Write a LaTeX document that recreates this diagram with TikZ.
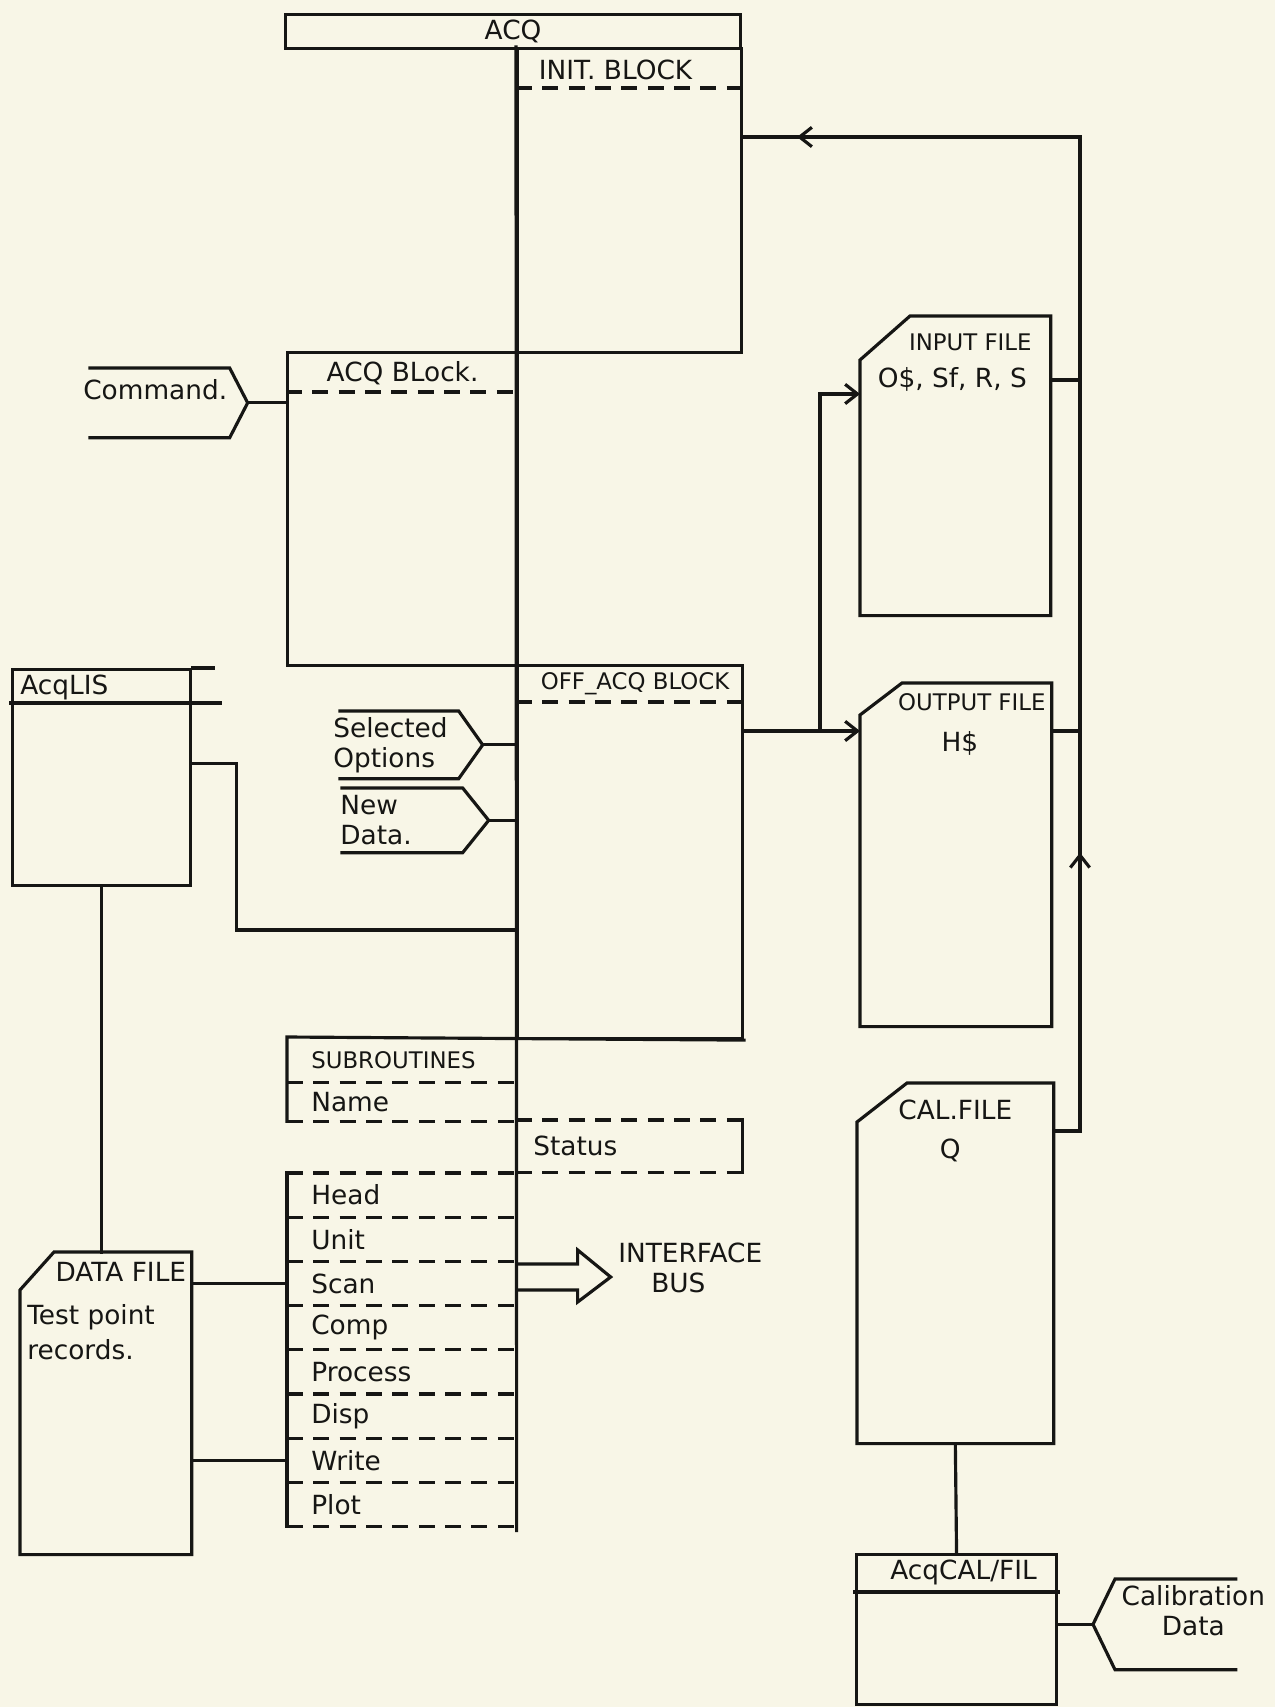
\documentclass[tikz,border=0pt]{standalone}
\usepackage{fontspec}
\setmainfont{DejaVu Sans}
\usepackage{tikz}
\usetikzlibrary{arrows.meta, positioning, calc, decorations.markings}
\definecolor{paper}{RGB}{248,246,231}
\definecolor{ink}{RGB}{22,22,20}
\newcommand{\hand}{\fontsize{15}{17}\selectfont}
\newcommand{\handsm}{\fontsize{13}{15}\selectfont}
\tikzset{
  block/.style={rectangle, draw=ink, line width=1.8pt, anchor=north west, inner sep=0pt},
  filebox/.style={rectangle, anchor=north west, inner sep=0pt},
  flag/.style={rectangle, anchor=north west, inner sep=0pt},
  listrow/.style={rectangle, anchor=north west, inner xsep=0.48cm, inner ysep=0pt,
    text width=3.62cm, align=left, minimum height=#1, font=\hand, text=ink,
    append after command={(\tikzlastnode.south west) edge[dashsep] (\tikzlastnode.south east)}},
  txt/.style={font=\hand, text=ink, inner sep=0pt},
  smtxt/.style={font=\handsm, text=ink, inner sep=0pt},
  line/.style={draw=ink, line width=1.8pt, line cap=rect},
  dashsep/.style={draw=ink, line width=1.8pt, dash pattern=on 9pt off 6pt},
  arrow/.style={line, -{Straight Barb[length=7pt, width=11pt]}},
  midarrow/.style={line, postaction={decorate}, decoration={markings,
    mark=at position #1 with {\arrow{Straight Barb[length=7pt, width=11pt]}}}}
}
\begin{document}
\begin{tikzpicture}[x=0.02cm, y=-0.02cm]
  \path[use as bounding box, fill=paper] (0,0) rectangle (1275,1707);

  % ACQ program and its blocks
  \node[block, minimum width=9.1cm, minimum height=0.68cm, font=\hand, text=ink] (acq) at (284,13) {ACQ};
  \node[block, minimum width=4.48cm, minimum height=6.08cm] (init) at (516,47) {};
  \node[block, minimum width=4.6cm, minimum height=6.26cm] (acqblk) at (286,351) {};
  \node[block, minimum width=4.5cm, minimum height=7.46cm] (offacq) at (516,664) {};
  \draw[dashsep] ([yshift=-0.82cm]init.north west) -- ([yshift=-0.82cm]init.north east);
  \draw[dashsep] ([yshift=-0.82cm]acqblk.north west) -- ([yshift=-0.82cm]acqblk.north east);
  \draw[dashsep] ([yshift=-0.76cm]offacq.north west) -- ([yshift=-0.76cm]offacq.north east);
  \node[txt] at ([xshift=-0.28cm, yshift=-0.46cm]init.north) {INIT. BLOCK};
  \node[txt] at ([yshift=-0.44cm]acqblk.north) {ACQ BLock.};
  \node[smtxt] at ([xshift=0.1cm, yshift=-0.4cm]offacq.north) {OFF\_ACQ BLOCK};

  % Subroutines
  \node[listrow=0.9cm, font=\handsm] (subr) at (287,1037) {SUBROUTINES};
  \node[listrow=0.76cm, below=0pt of subr] (name) {Name};
  \node[listrow=1.04cm, text width=3.84cm, inner xsep=0.34cm] (status) at (516,1120) {Status};
  \node[listrow=0.87cm] (head) at (287,1173) {Head};
  \node[listrow=0.87cm, below=0pt of head] (unit) {Unit};
  \node[listrow=0.87cm, below=0pt of unit] (scan) {Scan};
  \node[listrow=0.87cm, below=0pt of scan] (comp) {Comp};
  \node[listrow=0.87cm, below=0pt of comp] (process) {Process};
  \node[listrow=0.87cm, below=0pt of process] (disp) {Disp};
  \node[listrow=0.87cm, below=0pt of disp] (write) {Write};
  \node[listrow=0.87cm, below=0pt of write] (plot) {Plot};
  \draw[line] (offacq.south east) -- (subr.north west) -- (name.south west);
  \draw[dashsep] (status.north west) -- (status.north east);
  \draw[line] (status.north east) -- (status.south east);
  \draw[dashsep] (head.north west) -- (head.north east);
  \draw[line] (head.north west) -- (plot.south west);
  \draw[line] (init.north west) -- ([yshift=-0.08cm]plot.south east);

  % Interface bus
  \draw[line] ([yshift=0.39cm]scan.east) -- ++(61,0) -- ++(0,-14) -- ++(33,27) -- ++(-33,25) -- ++(0,-12) -- ++(-61,0);
  \node[txt, anchor=west, align=left] (bus) at (618,1268) {INTERFACE\\\hspace{0.66cm}BUS};

  % Listing file and data file
  \node[block, minimum width=3.56cm, minimum height=4.32cm] (lis) at (11,668) {};
  \draw[line] (lis.north east) -- ++(21,0);
  \draw[line] ([yshift=-0.7cm]lis.north west) -- ++(209,0);
  \node[txt, anchor=west] at ([xshift=0.18cm, yshift=-0.38cm]lis.north west) {AcqLIS};
  \node[filebox, minimum width=3.42cm, minimum height=6.04cm] (datf) at (20,1252) {};
  \draw[line] (datf.south west) -- ([yshift=-0.76cm]datf.north west) -- ([xshift=0.68cm]datf.north west) -- (datf.north east) -- (datf.south east) -- cycle;
  \node[txt] at ([xshift=0.3cm, yshift=-0.4cm]datf.north) {DATA FILE};
  \node[txt, anchor=west, align=left, font=\fontsize{15}{20}\selectfont] at ([xshift=0.14cm, yshift=-1.6cm]datf.north west) {Test point\\records.};
  \draw[line] ([yshift=0.28cm]lis.east) -- ++(44,0) |- (offacq.west |- 0,930);
  \draw[line] (lis.south) -- (lis.south |- datf.north);
  \draw[line] (scan.west -| datf.east) -- (scan.west);
  \draw[line] (write.west -| datf.east) -- (write.west);

  % Inputs
  \node[flag, minimum width=3.14cm, minimum height=1.38cm] (cmd) at (90,368) {};
  \draw[line] (cmd.north west) -- ([xshift=-0.36cm]cmd.north east) -- (cmd.east) -- ([xshift=-0.36cm]cmd.south east) -- (cmd.south west);
  \node[txt, anchor=west] at ([xshift=-0.14cm, yshift=0.27cm]cmd.west) {Command.};
  \draw[line] (cmd.east) -- (cmd.east -| acqblk.west);
  \node[flag, minimum width=2.84cm, minimum height=1.34cm] (selopt) at (340,711) {};
  \draw[line] (selopt.north west) -- ([xshift=-0.48cm]selopt.north east) -- (selopt.east) -- ([xshift=-0.48cm]selopt.south east) -- (selopt.south west);
  \node[txt, anchor=west, align=left] at ([xshift=-0.14cm]selopt.west) {Selected\\Options};
  \draw[line] (selopt.east) -- (selopt.east -| offacq.west);
  \node[flag, minimum width=2.92cm, minimum height=1.28cm] (newdat) at (342,788) {};
  \draw[line] (newdat.north west) -- ([xshift=-0.52cm]newdat.north east) -- (newdat.east) -- ([xshift=-0.52cm]newdat.south east) -- (newdat.south west);
  \node[txt, anchor=west, align=left] at ([xshift=-0.04cm]newdat.west) {New\\Data.};
  \draw[line] (newdat.east) -- (newdat.east -| offacq.west);

  % Files
  \node[filebox, minimum width=3.8cm, minimum height=5.98cm] (inp) at (860,316) {};
  \draw[line] (inp.south west) -- ([yshift=-0.88cm]inp.north west) -- ([xshift=1cm]inp.north west) -- (inp.north east) -- (inp.south east) -- cycle;
  \node[smtxt] at ([xshift=0.3cm, yshift=-0.52cm]inp.north) {INPUT FILE};
  \node[txt] at ([xshift=-0.06cm, yshift=-1.26cm]inp.north) {O\$, Sf, R, S};
  \node[filebox, minimum width=3.82cm, minimum height=6.86cm] (outp) at (860,683) {};
  \draw[line] (outp.south west) -- ([yshift=-0.64cm]outp.north west) -- ([xshift=0.84cm]outp.north west) -- (outp.north east) -- (outp.south east) -- cycle;
  \node[smtxt] at ([xshift=0.32cm, yshift=-0.38cm]outp.north) {OUTPUT FILE};
  \node[txt] at ([xshift=0.08cm, yshift=-1.2cm]outp.north) {H\$};
  \node[filebox, minimum width=3.92cm, minimum height=7.2cm] (cal) at (857,1083) {};
  \draw[line] (cal.south west) -- ([yshift=-0.78cm]cal.north west) -- ([xshift=1cm]cal.north west) -- (cal.north east) -- (cal.south east) -- cycle;
  \node[txt] at ([yshift=-0.54cm]cal.north) {CAL.FILE};
  \node[txt] at ([xshift=-0.1cm, yshift=-1.34cm]cal.north) {Q};

  % Output paths and return bus
  \coordinate (split) at (820,731);
  \coordinate (rettop) at (1080,137);
  \coordinate (retbot) at (1080,1131);
  \draw[line] (offacq.east |- split) -- (split);
  \draw[arrow] (split) -- (split -| outp.west);
  \draw[arrow] (split) |- ([yshift=-1.56cm]inp.north west);
  \draw[line] (cal.east |- retbot) -- (retbot);
  \draw[midarrow=0.28] (retbot) -- (rettop);
  \draw[midarrow=0.84] (rettop) -- (init.east |- rettop);
  \coordinate (inpout) at ([yshift=-1.28cm]inp.north east);
  \draw[line] (inpout) -- (inpout -| retbot);
  \draw[line] (split -| outp.east) -- (split -| retbot);

  % Calibration
  \node[block, minimum width=4cm, minimum height=3cm] (acqcal) at (855,1553) {};
  \draw[line] ([yshift=-0.78cm]acqcal.north west) -- ([yshift=-0.78cm]acqcal.north east);
  \node[txt] at ([xshift=0.14cm, yshift=-0.38cm]acqcal.north) {AcqCAL/FIL};
  \draw[line] (cal.south) -- (acqcal.north);
  \node[flag, minimum width=2.84cm, minimum height=1.8cm] (caldat) at (1093,1579) {};
  \draw[line] (caldat.north east) -- ([xshift=0.44cm]caldat.north west) -- (caldat.west) -- ([xshift=0.44cm]caldat.south west) -- (caldat.south east);
  \node[txt, align=center] at ([xshift=0.58cm, yshift=0.28cm]caldat.center) {Calibration\\Data};
  \draw[line] (caldat.west -| acqcal.east) -- (caldat.west);
\end{tikzpicture}
\end{document}
